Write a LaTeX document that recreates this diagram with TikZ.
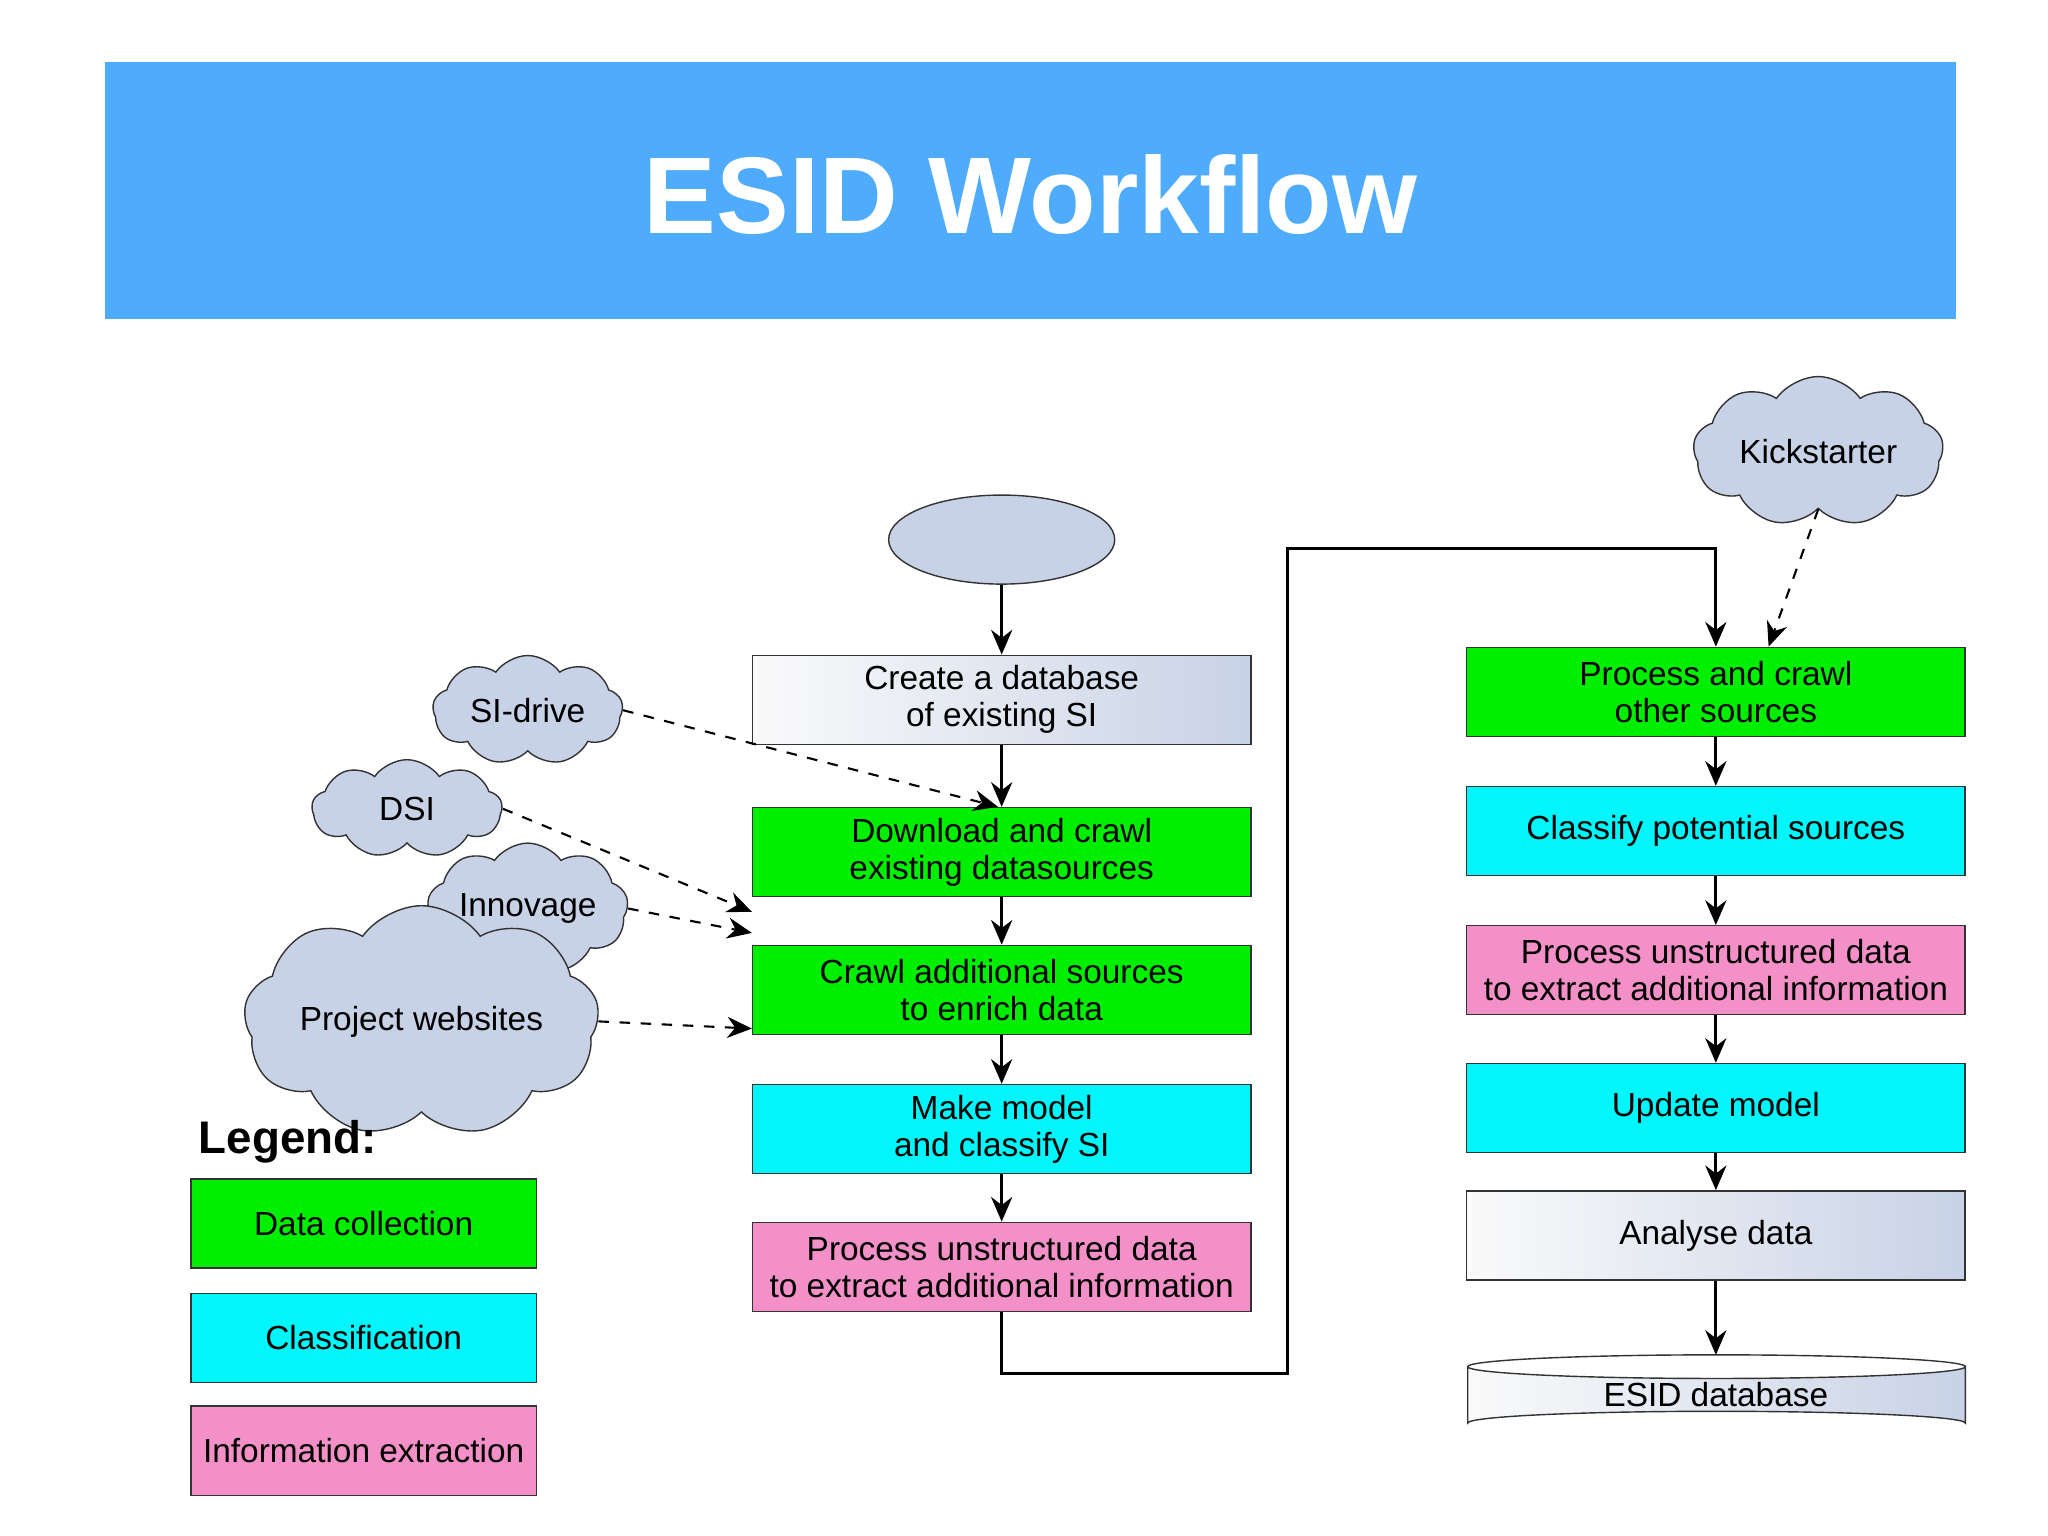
\documentclass[tikz,border=0pt]{standalone}
\usepackage{fontspec}
\setmainfont{Liberation Sans}
\usetikzlibrary{shapes.geometric,shapes.symbols,arrows.meta,positioning}
\definecolor{titleblue}{HTML}{4FACFD}
\definecolor{collgreen}{HTML}{00EE00}
\definecolor{classcyan}{HTML}{00F6FA}
\definecolor{infopink}{HTML}{F490C8}
\definecolor{pale}{HTML}{C8D2E6}

\tikzset{
  box/.style={draw=black!80,minimum width=4.98cm,minimum height=0.89cm,align=center,
    font=\fontsize{9.5}{10.5}\selectfont,inner sep=1pt},
  gray box/.style={box,left color=gray!4,right color=pale},
  coll/.style={box,fill=collgreen},
  cls/.style={box,fill=classcyan},
  info/.style={box,fill=infopink},
  leg/.style={minimum width=3.45cm},
  src/.style={cloud,cloud puffs=9,cloud puff arc=110,aspect=1.9,draw=black!80,fill=pale,
    font=\fontsize{9.5}{10.5}\selectfont,inner sep=0pt},
  flow/.style={-{Stealth[length=7pt,width=6pt]},thick},
  feed/.style={flow,dashed,semithick}
}

\begin{document}
\begin{tikzpicture}[x=0.013128cm,y=-0.013128cm]
  \useasboundingbox (0,0) rectangle (1560,1170);
  % Title banner
  \fill[titleblue] (80,47) rectangle (1490,243);
  \node[text=white,font=\bfseries\fontsize{31}{34}\selectfont] (title) at (785,148) {ESID Workflow};

  % Left column
  \node[ellipse,draw=black!80,fill=pale,minimum width=2.26cm,minimum height=0.89cm] (start) at (763,411) {};
  \node[gray box] (create) at (763,533) {Create a database\\of existing SI};
  \node[coll] (down) at (763,649) {Download and crawl\\existing datasources};
  \node[coll] (crawl) at (763,754) {Crawl additional sources\\to enrich data};
  \node[cls] (model) at (763,860) {Make model\\and classify SI};
  \node[info] (extract) at (763,965) {Process unstructured data\\to extract additional information};

  % Right column
  \node[coll] (other) at (1307,527) {Process and crawl\\other sources};
  \node[cls] (classify) at (1307,633) {Classify potential sources};
  \node[info] (extract2) at (1307,739) {Process unstructured data\\to extract additional information};
  \node[cls] (update) at (1307,844) {Update model};
  \node[gray box] (analyse) at (1307,941) {Analyse data};
  % database cylinder
  \shade[left color=gray!4,right color=pale,draw=black!80]
    (1118,1041) -- (1118,1084) arc[start angle=180,end angle=360,x radius=189.5,y radius=9]
    -- (1497,1041) arc[start angle=0,end angle=180,x radius=189.5,y radius=9] -- cycle;
  \draw[black!80] (1118,1041) arc[start angle=180,end angle=360,x radius=189.5,y radius=9];
  \node[font=\fontsize{9.5}{10.5}\selectfont,minimum width=4.98cm,minimum height=0.55cm] (db) at (1307,1062) {ESID database};

  % Sources
  \node[src,minimum width=1.9cm,minimum height=0.98cm] (sidrive) at (402,541) {SI-drive};
  \node[src,minimum width=1.9cm,minimum height=0.98cm] (dsi) at (310,616) {DSI};
  \node[src,minimum width=1.9cm,minimum height=0.98cm] (innov) at (402,692) {Innovage};
  \node[src,minimum width=2.95cm,minimum height=0.98cm] (proj) at (321,778) {Project websites};
  \node[src,minimum width=2.5cm,minimum height=1.0cm] (kick) at (1385,344) {Kickstarter};

  % Flow
  \draw[flow] (start) -- (create);
  \draw[flow] (create) -- (down);
  \draw[flow] (down) -- (crawl);
  \draw[flow] (crawl) -- (model);
  \draw[flow] (model) -- (extract);
  \draw[flow] (extract.south) |- (981,1046) |- (1307,418) -- (other.north);
  \draw[flow] (other) -- (classify);
  \draw[flow] (classify) -- (extract2);
  \draw[flow] (extract2) -- (update);
  \draw[flow] (update) -- (analyse);
  \draw[flow] (analyse) -- (1307,1032);

  % Data feeds
  \draw[feed] (sidrive.east) -- ([xshift=70]down.north west);
  \draw[feed] (dsi.east) -- ([yshift=-17]down.west);
  \draw[feed] (innov.east) -- ([yshift=-23]down.west);
  \draw[feed] (proj.east) -- ([yshift=-11]crawl.west);
  \draw[feed] (kick.south) -- ([xshift=15]other.north);

  % Legend
  \node[anchor=west,font=\bfseries\fontsize{13}{15}\selectfont] (legtitle) at (142,870) {Legend:};
  \node[coll,leg] (lcoll) at (277,932) {Data collection};
  \node[cls,leg] (lcls) at (277,1019) {Classification};
  \node[info,leg] (linfo) at (277,1105) {Information extraction};
\end{tikzpicture}
\end{document}
